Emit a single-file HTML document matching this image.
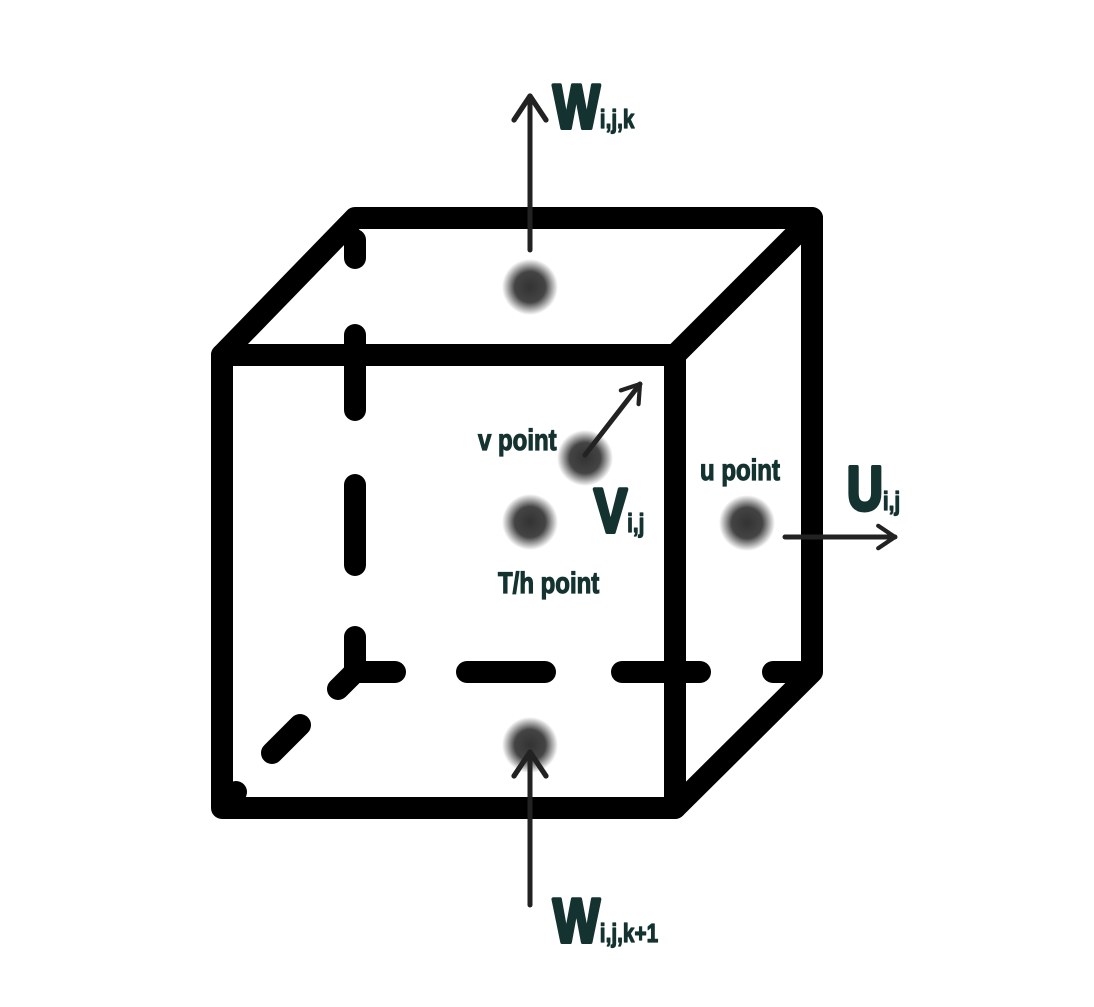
<!DOCTYPE html>
<html><head><meta charset="utf-8"><style>
html,body{margin:0;padding:0;background:#fff;}
svg{display:block}
text{font-family:"Liberation Sans",sans-serif;font-weight:bold;fill:#143330}
.big{stroke:#143330;stroke-width:4;stroke-linejoin:round}
.small{stroke:#143330;stroke-width:1.2}
</style></head><body>
<svg width="1094" height="1007" viewBox="0 0 1094 1007">
<defs>
<radialGradient id="dot" cx="50%" cy="50%" r="50%">
<stop offset="0%" stop-color="#333"/><stop offset="55%" stop-color="#444"/><stop offset="100%" stop-color="#444" stop-opacity="0"/>
</radialGradient>
<marker id="ah" viewBox="0 0 20 20" refX="13" refY="10" markerWidth="40" markerHeight="40" markerUnits="userSpaceOnUse" orient="auto" style="overflow:visible">
<path d="M1,2 L13,10 L1,18" fill="none" stroke="#222" stroke-width="2.6" stroke-linecap="round" stroke-linejoin="round"/>
</marker>
<marker id="ahs" viewBox="0 0 20 20" refX="13" refY="10" markerWidth="28" markerHeight="28" markerUnits="userSpaceOnUse" orient="auto" style="overflow:visible">
<path d="M1,2 L13,10 L1,18" fill="none" stroke="#222" stroke-width="3" stroke-linecap="round" stroke-linejoin="round"/>
</marker>
</defs>
<g stroke="#000" stroke-width="22" stroke-linecap="round" stroke-linejoin="round" fill="none">
<rect x="222" y="355" width="453" height="453"/>
<polyline points="222,355 355,218 812,218 812,672 675,808"/>
<line x1="675" y1="355" x2="812" y2="218"/>
</g>
<g stroke="#000" stroke-width="22" stroke-linecap="round" fill="none">
<line x1="355" y1="240" x2="355" y2="258"/>
<line x1="355" y1="335" x2="355" y2="410"/>
<line x1="355" y1="485" x2="355" y2="565"/>
<line x1="355" y1="637" x2="355" y2="672"/>
<line x1="355" y1="672" x2="395" y2="672"/>
<line x1="467" y1="672" x2="545" y2="672"/>
<line x1="622" y1="672" x2="700" y2="672"/>
<line x1="773" y1="672" x2="800" y2="672"/>
<line x1="355" y1="672" x2="338" y2="689"/>
<line x1="300" y1="725" x2="272" y2="753"/>
<line x1="233" y1="795" x2="236" y2="792"/>
</g>
<g>
<circle cx="530" cy="287" r="28" fill="url(#dot)"/>
<circle cx="585" cy="458" r="28" fill="url(#dot)"/>
<circle cx="530" cy="522" r="28" fill="url(#dot)"/>
<circle cx="747" cy="523" r="28" fill="url(#dot)"/>
<circle cx="530" cy="745" r="28" fill="url(#dot)"/>
</g>
<g stroke="#222" stroke-width="5" stroke-linecap="round" fill="none">
<line x1="530" y1="250" x2="530" y2="96" marker-end="url(#ah)"/>
<line x1="530" y1="905" x2="530" y2="752" marker-end="url(#ah)"/>
<line x1="585" y1="455" x2="640" y2="384" marker-end="url(#ahs)"/>
<line x1="785" y1="537" x2="895" y2="537" marker-end="url(#ahs)"/>
</g>
<g>
<g transform="translate(553,128) scale(0.8,1)"><text font-size="62" class="big">W<tspan font-size="26" class="small">i,j,k</tspan></text></g>
<g transform="translate(478,450) scale(0.8,1)"><text font-size="30" class="small">v point</text></g>
<g transform="translate(594,532) scale(0.8,1)"><text font-size="62" class="big">V<tspan font-size="26" class="small">i,j</tspan></text></g>
<g transform="translate(700,480) scale(0.8,1)"><text font-size="30" class="small">u point</text></g>
<g transform="translate(847,510) scale(0.8,1)"><text font-size="62" class="big">U<tspan font-size="26" class="small">i,j</tspan></text></g>
<g transform="translate(498,593) scale(0.8,1)"><text font-size="30" class="small">T/h point</text></g>
<g transform="translate(553,942) scale(0.8,1)"><text font-size="62" class="big">W<tspan font-size="26" class="small">i,j,k+1</tspan></text></g>
</g>
</svg>
</body></html>
